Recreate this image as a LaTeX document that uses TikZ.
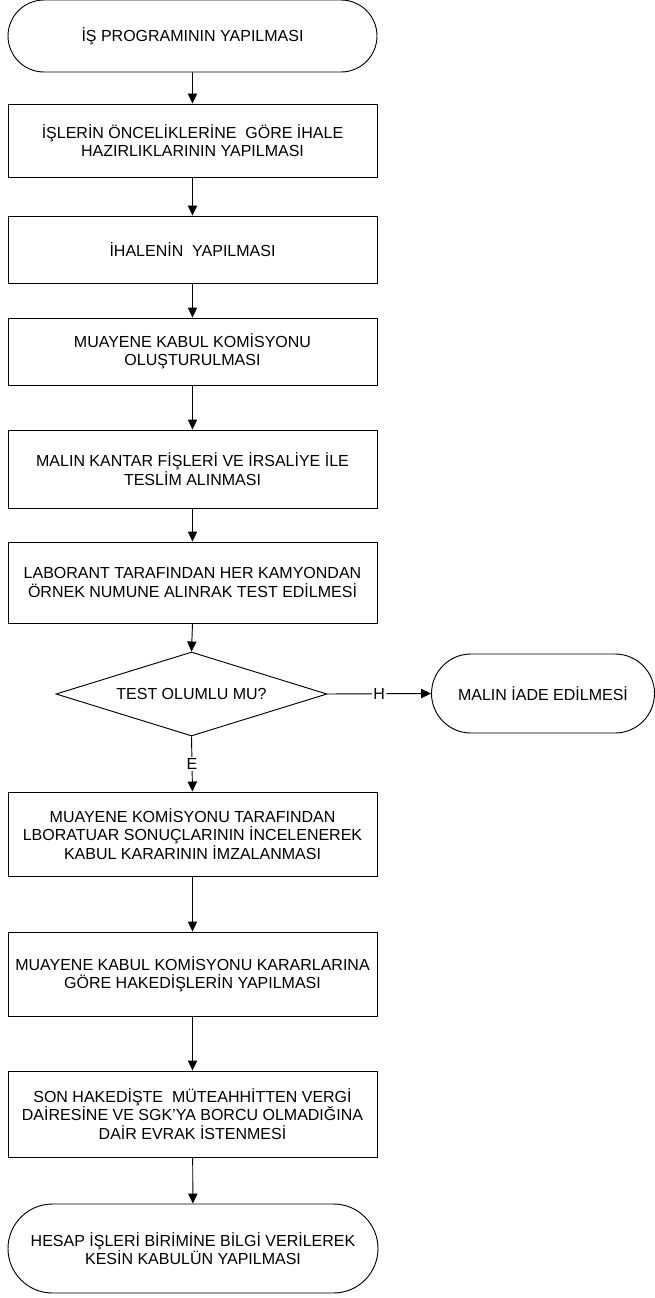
\documentclass[tikz,border=0pt]{standalone}
\usepackage{fontspec}
\setmainfont{Liberation Sans}
\usetikzlibrary{shapes.geometric, shapes.misc, arrows.meta}

\begin{document}
\begin{tikzpicture}[x=0.75pt, y=-0.75pt,
  every node/.style={font=\fontsize{12}{13.75}\selectfont},
  box/.style={draw, line width=0.7pt, minimum width=276.75pt, align=center, inner sep=0pt},
  term/.style={draw, line width=0.7pt, rounded rectangle, align=center, inner sep=0pt},
  dec/.style={draw, line width=0.7pt, diamond, aspect=3.2, inner sep=0pt, minimum width=203.25pt, minimum height=63pt},
  arr/.style={line width=0.7pt, -{Triangle[length=7.5pt, width=7pt]}},
  lbl/.style={fill=white, inner sep=1pt}]
\useasboundingbox (0,0) rectangle (654,1298);
\node[term, minimum width=276.75pt, minimum height=54pt] (start) at (192.5,36) {İŞ PROGRAMININ YAPILMASI};
\node[box, minimum height=54.75pt] (hazirlik) at (192.5,140.5) {İŞLERİN ÖNCELİKLERİNE~ GÖRE İHALE\\HAZIRLIKLARININ YAPILMASI};
\node[box, minimum height=50.25pt] (ihale) at (192.5,249.5) {İHALENİN~ YAPILMASI};
\node[box, minimum height=50.25pt] (komisyon) at (192.5,351.5) {MUAYENE KABUL KOMİSYONU\\OLUŞTURULMASI};
\node[box, minimum height=58.5pt] (teslim) at (192.5,469) {MALIN KANTAR FİŞLERİ VE İRSALİYE İLE\\TESLİM ALINMASI};
\node[box, minimum height=60.75pt] (numune) at (192.5,582.5) {LABORANT TARAFINDAN HER KAMYONDAN\\ÖRNEK NUMUNE ALINRAK TEST EDİLMESİ};
\node[dec] (olumlu) at (191.5,694) {TEST OLUMLU MU?};
\node[term, minimum width=167.25pt, minimum height=59.25pt] (iade) at (543,693.5) {MALIN İADE EDİLMESİ};
\node[box, minimum height=63pt] (karar) at (192.5,834) {MUAYENE KOMİSYONU TARAFINDAN\\LBORATUAR SONUÇLARININ İNCELENEREK\\KABUL KARARININ İMZALANMASI};
\node[box, minimum height=63pt] (hakedis) at (192.5,974) {MUAYENE KABUL KOMİSYONU KARARLARINA\\GÖRE HAKEDİŞLERİN YAPILMASI};
\node[box, minimum height=64.5pt] (evrak) at (192.5,1114) {SON HAKEDİŞTE~ MÜTEAHHİTTEN VERGİ\\DAİRESİNE VE SGK'YA BORCU OLMADIĞINA\\DAİR EVRAK İSTENMESİ};
\node[term, minimum width=277.5pt, minimum height=66.75pt] (kesin) at (193,1248.5) {HESAP İŞLERİ BİRİMİNE BİLGİ VERİLEREK\\KESİN KABULÜN YAPILMASI};
\draw[arr] (start) -- (hazirlik);
\draw[arr] (hazirlik) -- (ihale);
\draw[arr] (ihale) -- (komisyon);
\draw[arr] (komisyon) -- (teslim);
\draw[arr] (teslim) -- (numune);
\draw[arr] (numune.south) -- (olumlu.north);
\draw[arr] (olumlu.east) -- node[lbl] {H} (iade.west);
\draw[arr] (olumlu.south) -- node[lbl] {E} (karar.north);
\draw[arr] (karar) -- (hakedis);
\draw[arr] (hakedis) -- (evrak);
\draw[arr] (evrak) -- (kesin);
\end{tikzpicture}
\end{document}
